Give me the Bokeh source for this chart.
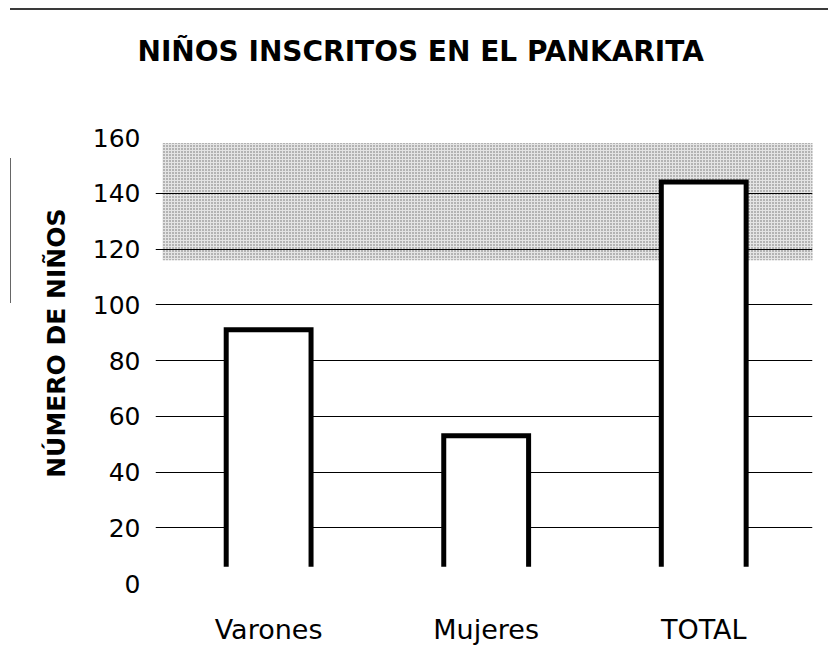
from bokeh.plotting import figure
from bokeh.models import (Range1d, FixedTicker, BoxAnnotation, Title,
                          ColumnDataSource, InlineStyleSheet)
from bokeh.embed import file_html
from bokeh.resources import INLINE

# ---- data ----
categories = ["Varones", "Mujeres", "TOTAL"]
counts = [91, 53, 144]
y_ticks = [0, 20, 40, 60, 80, 100, 120, 140, 160]
grid_ticks = [20, 40, 60, 80, 100, 120, 140]
title_text = "NIÑOS INSCRITOS EN EL PANKARITA"
y_label_text = "NÚMERO DE NIÑOS"
band_bottom, band_top = 116, 158
bar_base = 6
bar_width = 0.39

FONT = "DejaVu Sans"

p = figure(width=828, height=670, output_backend="svg", toolbar_location=None,
           x_range=Range1d(-0.52, 2.5), y_range=Range1d(0, 160),
           min_border_left=155, min_border_right=16,
           min_border_top=137, min_border_bottom=87)
p.title = None
p.outline_line_color = None
p.background_fill_color = "white"
p.border_fill_color = "white"

# stippled band
band = BoxAnnotation(bottom=band_bottom, top=band_top, left=7, right=660,
                     left_units="screen", right_units="screen",
                     fill_color="#e4e4e4", fill_alpha=1.0,
                     hatch_pattern=".", hatch_color="#5a5a5a", hatch_scale=3,
                     hatch_alpha=0.9, line_color=None, level="image")
p.add_layout(band)

# grid
p.xgrid.visible = False
p.ygrid.ticker = FixedTicker(ticks=grid_ticks)
p.ygrid.grid_line_color = "black"
p.ygrid.grid_line_width = 1

# axes
p.yaxis.ticker = FixedTicker(ticks=y_ticks)
p.yaxis.axis_line_color = None
p.yaxis.major_tick_line_color = None
p.yaxis.minor_tick_line_color = None
p.yaxis.major_tick_out = 0
p.yaxis.major_tick_in = 0
p.yaxis.major_label_standoff = 15
p.yaxis.major_label_text_font = FONT
p.yaxis.major_label_text_font_size = "25px"
p.yaxis.major_label_text_color = "black"

xs_idx = list(range(len(categories)))
p.xaxis.ticker = FixedTicker(ticks=xs_idx)
p.xaxis.major_label_overrides = {i: c for i, c in enumerate(categories)}
p.xaxis.axis_line_color = None
p.xaxis.major_tick_line_color = None
p.xaxis.minor_tick_line_color = None
p.xaxis.major_tick_out = 0
p.xaxis.major_tick_in = 0
p.xaxis.major_label_standoff = 30
p.xaxis.major_label_text_font = FONT
p.xaxis.major_label_text_font_size = "27px"
p.xaxis.major_label_text_color = "black"

# bars: white fill, open outline (no bottom)
src = ColumnDataSource(dict(x=xs_idx, top=counts, bottom=[bar_base] * len(counts)))
p.vbar(x="x", top="top", bottom="bottom", width=bar_width, source=src,
       fill_color="white", line_color=None)
outline_xs = [[i - bar_width / 2, i - bar_width / 2, i + bar_width / 2, i + bar_width / 2]
              for i in xs_idx]
outline_ys = [[bar_base, v, v, bar_base] for v in counts]
p.multi_line(outline_xs, outline_ys, line_color="black", line_width=5,
             line_join="miter")

# titles: spacer first (closest to frame), then the real title
p.add_layout(Title(text=" ", text_font=FONT, text_font_size="54px", standoff=0), "above")
p.add_layout(Title(text=title_text, align="left", offset=-18, standoff=10,
                   text_font=FONT, text_font_style="bold", text_font_size="28px",
                   text_color="black"), "above")

# y label as a left title, aligned towards the top
p.add_layout(Title(text=y_label_text, align="right", offset=71, standoff=38,
                   text_font=FONT, text_font_style="bold", text_font_size="25px",
                   text_color="black"), "left")

# decorative page rules
p.stylesheets = [InlineStyleSheet(css="""
:host { position: relative; }
:host::before { content: ''; position: absolute; left: 10px; top: 8px; z-index: 10;
                width: 818px; height: 2px; background: #3a3a3a; }
:host::after { content: ''; position: absolute; left: 10px; top: 158px; z-index: 10;
               width: 1px; height: 145px; background: #666; }
""")]

open("out.html", "w").write(file_html(p, INLINE))
